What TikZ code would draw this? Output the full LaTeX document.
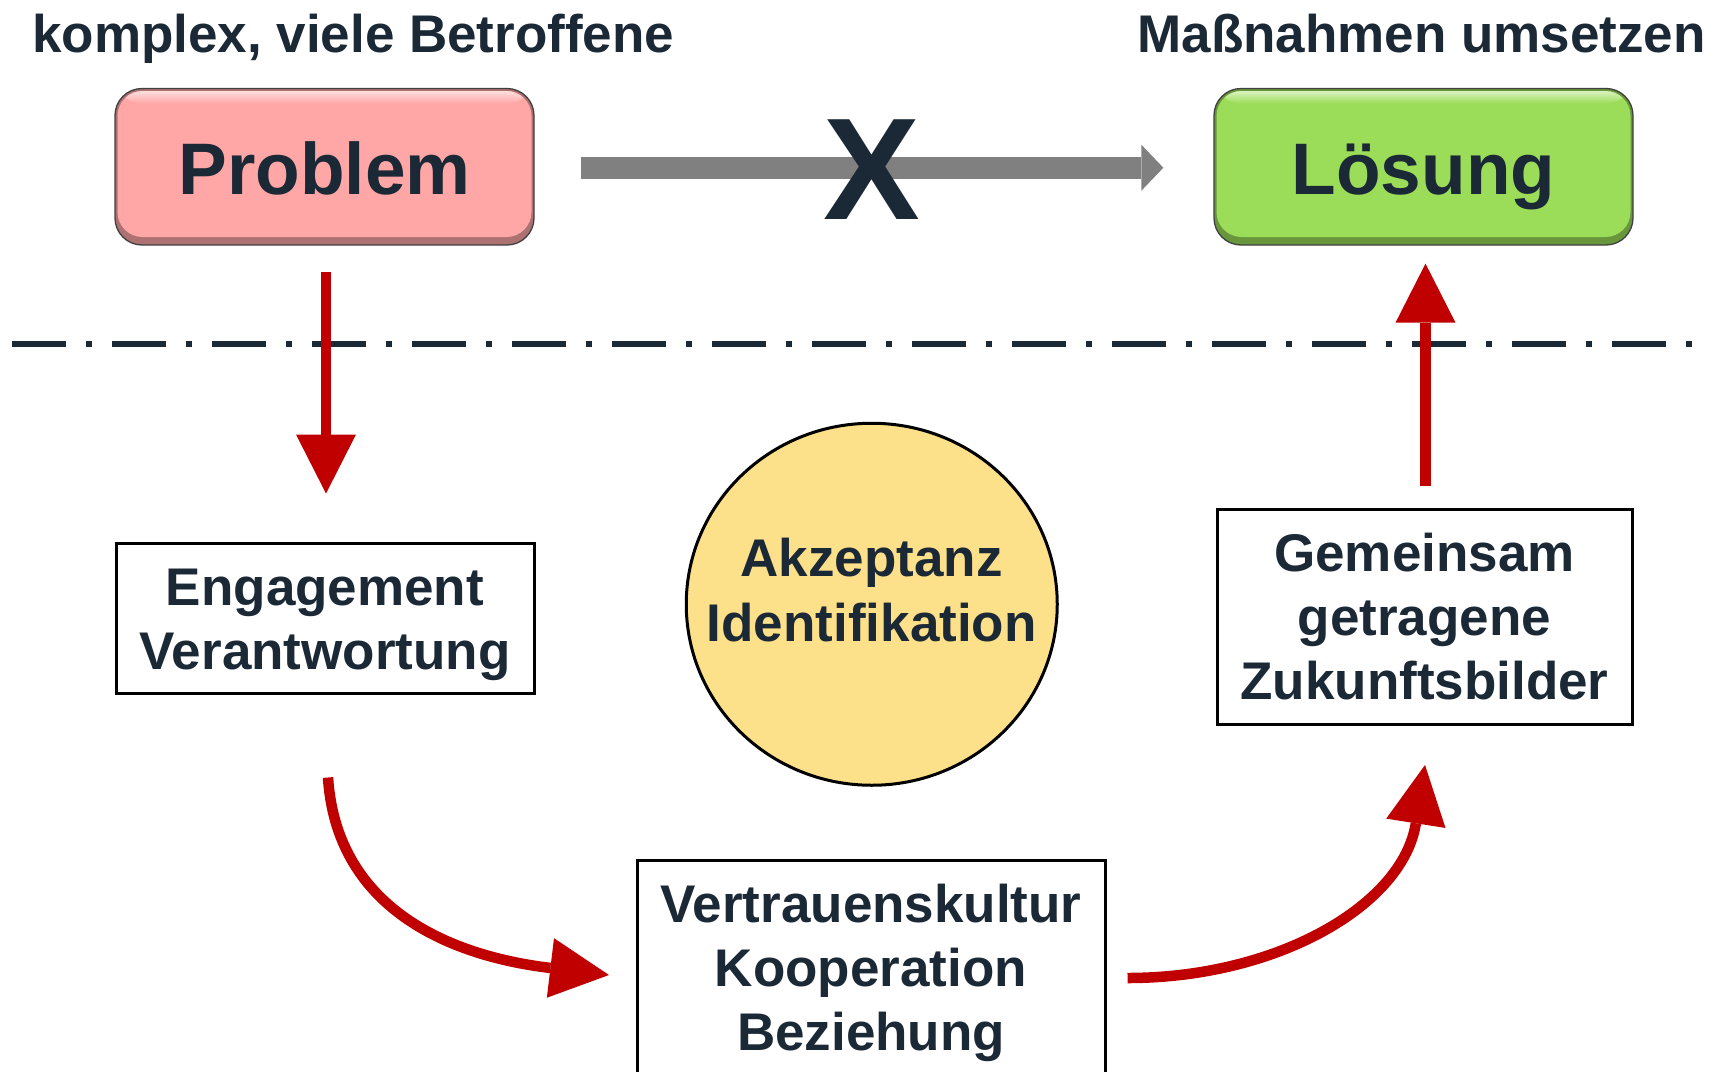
\documentclass[tikz,border=0pt]{standalone}
\usepackage{fontspec}
\setmainfont{Liberation Sans}
\usetikzlibrary{arrows.meta,calc,shapes.geometric}
\definecolor{txt}{HTML}{1B2835}
\definecolor{probc}{HTML}{FFA6A6}
\definecolor{losc}{HTML}{9BDD58}
\definecolor{circc}{HTML}{FDE08A}
\definecolor{redc}{HTML}{C00000}
\definecolor{greyc}{HTML}{808080}
\newcommand\mytopstrut{\rule{0pt}{50pt}}
\newcommand\mybotstrut{\rule[-12pt]{0pt}{12pt}}
\begin{document}
\begin{tikzpicture}[x=1pt,y=-1pt,
  txtfont/.style={font=\fontsize{53}{64}\selectfont\bfseries, text=txt},
  bevel/.style={draw=black!75, line width=1.3pt, rounded corners=27pt, fill=#1!68!black,
    inner sep=0pt, minimum width=419pt, minimum height=156.5pt,
    font=\fontsize{73}{80}\selectfont\bfseries, text=txt, text height=56pt, text depth=0pt,
    path picture={
      \fill[#1, rounded corners=25pt] ([shift={(2.5pt,-2.5pt)}]path picture bounding box.north west) rectangle ([shift={(-2.5pt,8pt)}]path picture bounding box.south east);
      \begin{scope}
        \clip[rounded corners=25pt] ([shift={(2.5pt,-2.5pt)}]path picture bounding box.north west) rectangle ([shift={(-2.5pt,8pt)}]path picture bounding box.south east);
        \shade[top color=#1!35!white, bottom color=#1] ([shift={(0pt,-2pt)}]path picture bounding box.north west) rectangle ([shift={(0pt,-15pt)}]path picture bounding box.north east);
      \end{scope}
    }},
  plainbox/.style={draw=black, line width=3pt, fill=white, inner sep=0pt, align=center, txtfont},
  titletext/.style={inner sep=0pt, txtfont},
  redarrow/.style={draw=redc, line width=10.5pt, -{Triangle[length=59pt 0 0, width=60pt 0 0, line width=0pt]}},
  greyarrow/.style={draw=greyc, line width=22pt, -{Triangle[length=22pt 0 0, width=46pt 0 0, line width=0pt]}},
  sepline/.style={draw=txt, line width=6.5pt, dash pattern=on 54pt off 20pt on 6pt off 20pt}
]
\useasboundingbox (0,0) rectangle (1721,1071);
\clip (0,0) rectangle (1721,1071);
\fill[white] (0,0) rectangle (1721,1071);

% titles
\node[titletext, anchor=base west] (t1) at (32,52) {komplex, viele Betroffene};
\node[titletext, anchor=base east] (t2) at (1706,52) {Maßnahmen umsetzen};

% top boxes
\node[bevel=probc] (prob) at (324.5,166.75) {Problem};
\node[bevel=losc] (los) at (1423.5,166.75) {Lösung};

% separator
\draw[sepline] (12,344) -- (1692,344);

% lower boxes
\node[plainbox, minimum width=418pt, minimum height=150pt] (eng) at (325,618)
  {\mytopstrut Engagement\\Verantwortung\mybotstrut};
\node[plainbox, minimum width=415pt, minimum height=215pt] (gem) at (1424.5,616.5)
  {\mytopstrut Gemeinsam\\getragene\\Zukunftsbilder\mybotstrut};
\node[plainbox, minimum width=468pt, minimum height=213.3pt] (vert) at (871,967.25)
  {\mytopstrut Vertrauenskultur\\Kooperation\\Beziehung\mybotstrut};
\node[ellipse, draw=black, line width=3pt, fill=circc, minimum width=371pt, minimum height=362pt,
  inner sep=0pt, align=center, font=\fontsize{53}{65}\selectfont\bfseries, text=txt] (circ) at (871.75,604.25)
  {\makebox[0pt]{\rule{0pt}{40pt}Akzeptanz}\\\makebox[0pt]{Identifikation\rule[-31pt]{0pt}{31pt}}};

% grey arrow with X
\draw[greyarrow] ($(prob.east)+(46,1)$) -- ($(los.west)+(-50,1)$)
  node[midway, inner sep=0pt, font=\fontsize{145}{150}\selectfont\bfseries, text=txt, text height=104pt, text depth=0pt] (xmark) {X};

% red arrows
\draw[redarrow] ($(prob.south)+(1.5,26)$) -- ($(eng.north)+(1,-48)$);
\draw[redarrow] ($(gem.north)+(1,-22)$) -- ($(los.south)+(2,18)$);
\coordinate (c1s) at ($(eng.south)+(3,83)$);
\coordinate (c1e) at ($(vert.west)+(-26.5,7.75)$);
\draw[redarrow] (c1s) .. controls ($(c1s)+(8,124)$) and ($(c1e)+(-170.5,-20.5)$) .. (c1e);
\coordinate (c2s) at ($(vert.east)+(21,10.75)$);
\coordinate (c2e) at ($(gem.south)+(0.5,39.5)$);
\draw[redarrow] (c2s) .. controls ($(c2s)+(150,0)$) and ($(c2e)+(-22,140)$) .. (c2e);
\end{tikzpicture}
\end{document}
